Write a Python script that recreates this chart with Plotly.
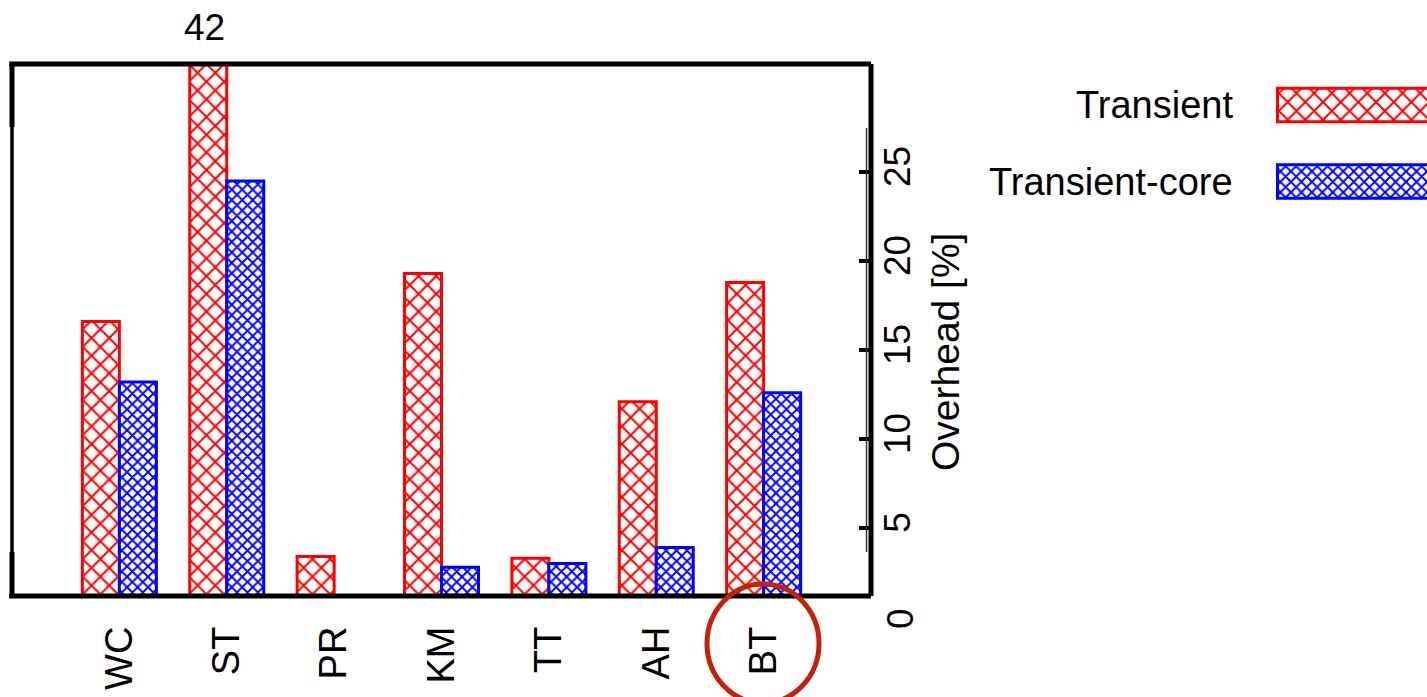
import plotly.graph_objects as go

categories = ["WC", "ST", "PR", "KM", "TT", "AH", "BT"]
series_names = ["Transient", "Transient-core"]
transient = [16.6, 42, 3.4, 19.3, 3.3, 12.1, 18.8]
transient_core = [13.2, 24.5, 0, 2.8, 3.0, 3.9, 12.6]
y_ticks = [5, 10, 15, 20, 25]
clipped_label = "42"

RED = "#ff0000"
BLUE = "#0000ff"
CIRCLE = "#c4200c"
FONT = "Liberation Sans, Arial, Helvetica, sans-serif"

W, H = 1427, 697
ML, MR, MT, MB = 12, 0, 64, 101
PW = W - ML - MR
PH = H - MT - MB
main_right = (871 - ML) / PW

def px_x(px):
    return (px - ML) / PW

def px_y(py):
    return (H - MB - py) / PH

RED_PAT = dict(size=12.5, solidity=0.3)
BLUE_PAT = dict(size=7.4, solidity=0.45)

fig = go.Figure()

fig.add_trace(go.Bar(
    x=categories, y=transient, name=series_names[0],
    marker=dict(color="white", line=dict(color=RED, width=3),
                pattern=dict(shape="x", fgcolor=RED, bgcolor="white", fgopacity=1, **RED_PAT)),
    xaxis="x", yaxis="y", showlegend=False,
))
fig.add_trace(go.Bar(
    x=categories, y=transient_core, name=series_names[1],
    marker=dict(color="white", line=dict(color=BLUE, width=3),
                pattern=dict(shape="x", fgcolor=BLUE, bgcolor="white", fgopacity=1, **BLUE_PAT)),
    xaxis="x", yaxis="y", showlegend=False,
))

# legend samples
fig.add_trace(go.Bar(
    y=series_names, x=[2, 2], orientation="h", width=0.437,
    marker=dict(color="white", line=dict(color=[RED, BLUE], width=3),
                pattern=dict(shape="x", fgcolor=[RED, BLUE], bgcolor="white", fgopacity=1,
                             size=[RED_PAT["size"], BLUE_PAT["size"]],
                             solidity=[RED_PAT["solidity"], BLUE_PAT["solidity"]])),
    xaxis="x2", yaxis="y2", showlegend=False, hoverinfo="skip",
))

fig.update_layout(
    width=W, height=H,
    margin=dict(l=ML, r=MR, t=MT, b=MB, pad=0),
    paper_bgcolor="white", plot_bgcolor="white",
    barmode="group", bargap=0.311, bargroupgap=0,
    font=dict(family=FONT, color="black", size=36),
    showlegend=False,
    xaxis=dict(domain=[0, main_right], range=[-1, 7], type="category",
               tickangle=-90, tickfont=dict(size=38), showgrid=False, zeroline=False,
               showline=False, ticks="", ticklabelstandoff=22, anchor="y"),
    yaxis=dict(domain=[0, 1], range=[1.18, 31.07], side="right", anchor="x",
               tickvals=y_ticks, ticktext=[str(v) for v in y_ticks],
               ticks="inside", ticklen=12, tickwidth=4, tickcolor="black",
               tickangle=-90, tickfont=dict(size=37), showgrid=False, zeroline=False,
               showline=False, ticklabelstandoff=1),
    xaxis2=dict(domain=[px_x(1270), 1], range=[-0.05, 1], visible=False, anchor="y2"),
    yaxis2=dict(domain=[px_y(219.75), px_y(66.75)], range=[-0.5, 1.5], visible=False,
                anchor="x2", type="category", categoryorder="array",
                categoryarray=series_names[::-1]),
)

shapes = []
line_black = dict(color="black", width=5)
shapes.append(dict(type="line", xref="paper", yref="paper", x0=-0.002, x1=main_right, y0=1, y1=1, line=line_black))
shapes.append(dict(type="line", xref="paper", yref="paper", x0=-0.002, x1=main_right, y0=0, y1=0, line=line_black))
shapes.append(dict(type="line", xref="paper", yref="paper", x0=main_right, x1=main_right, y0=0, y1=1, line=line_black))
shapes.append(dict(type="line", xref="paper", yref="paper", x0=0, x1=0, y0=0, y1=1, line=dict(color="black", width=3.5)))
shapes.append(dict(type="line", xref="paper", yref="paper", x0=0, x1=0, y0=px_y(127), y1=1, line=line_black))
shapes.append(dict(type="line", xref="paper", yref="paper", x0=0, x1=0, y0=0, y1=px_y(552), line=line_black))
shapes.append(dict(type="line", xref="paper", yref="paper", x0=px_x(866.5), x1=px_x(866.5),
                   y0=px_y(552), y1=px_y(128), line=dict(color="#333333", width=1.5)))
# highlight ring around the BT label
shapes.append(dict(type="circle", xref="paper", yref="paper", layer="above",
                   x0=px_x(707), x1=px_x(819), y0=px_y(703), y1=px_y(584),
                   line=dict(color=CIRCLE, width=5)))
fig.update_layout(shapes=shapes)

annotations = [
    dict(text=clipped_label, xref="x", yref="paper", x=categories[1], y=1, xshift=-22, yshift=37,
         showarrow=False, xanchor="center", yanchor="middle", font=dict(size=37)),
    dict(text="0", xref="paper", yref="paper", x=px_x(900), y=0, yshift=-23, textangle=-90,
         showarrow=False, xanchor="center", yanchor="middle", font=dict(size=37)),
    dict(text="Overhead [%]", xref="paper", yref="paper", x=px_x(945), y=px_y(352), textangle=-90,
         showarrow=False, xanchor="center", yanchor="middle", font=dict(size=39)),
]
for name in series_names:
    annotations.append(dict(text=name, xref="paper", yref="y2", x=px_x(1235), y=name,
                            showarrow=False, xanchor="right", yanchor="middle", font=dict(size=38)))
fig.update_layout(annotations=annotations)

fig.write_html(
    "out.html",
    config={"displayModeBar": False},
    post_script="document.body.style.margin='0';document.body.style.overflow='hidden';",
)
